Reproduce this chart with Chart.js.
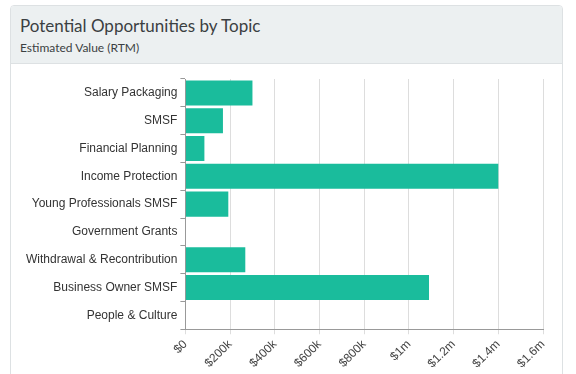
<!DOCTYPE html>
<html>
<head>
<meta charset="utf-8">
<script src="https://cdn.jsdelivr.net/npm/chart.js@4"></script>
<style>
    body { margin: 0; background: #fff; font-family: Lato, sans-serif; }
    .panel {
        position: absolute; left: 10px; top: 5px; width: 551px; height: 380px;
        border: 1px solid #dde1e3; border-radius: 4px; overflow: hidden;
    }
    .panel-heading {
        background: #ecf0f1; height: 58px; border-bottom: 1px solid #dde1e3;
        padding-left: 9px; box-sizing: border-box;
    }
    .panel-heading h3 { margin: 0; padding-top: 9px; font-size: 17px; font-weight: 400; color: #3b3f42; }
    .panel-heading small { display: block; font-size: 12px; color: #3b3f42; margin-top: 4px; }
    .chart-box { position: absolute; left: 0; top: 58px; width: 551px; height: 312px; }
</style>
</head>
<body>
<div class="panel">
    <div class="panel-heading">
        <h3>Potential Opportunities by Topic</h3>
        <small>Estimated Value (RTM)</small>
    </div>
    <div class="chart-box"><canvas id="topicChart"></canvas></div>
</div>
<script>
const topics = [
    'Salary Packaging',
    'SMSF',
    'Financial Planning',
    'Income Protection',
    'Young Professionals SMSF',
    'Government Grants',
    'Withdrawal & Recontribution',
    'Business Owner SMSF',
    'People & Culture'
];
const estimatedValues = [300000, 168000, 85000, 1400000, 192000, 0, 268000, 1090000, 0];
const axisMax = 1600000;
const axisStep = 200000;

const formatMoney = (value) => {
    if (value === 0) return '$0';
    if (value >= 1000000) return '$' + (value / 1000000) + 'm';
    return '$' + (value / 1000) + 'k';
};

const topicChartDOM = document.querySelector('#topicChart');

new Chart(topicChartDOM, {
    type: 'bar',
    data: {
        labels: topics,
        datasets: [{
            label: 'Estimated Value',
            data: estimatedValues,
            backgroundColor: '#1abc9c',
            borderWidth: 0,
            categoryPercentage: 1,
            barPercentage: 0.9
        }]
    },
    options: {
        indexAxis: 'y',
        responsive: true,
        maintainAspectRatio: false,
        animation: false,
        layout: { padding: { top: 15, right: 19, left: 12, bottom: 2 } },
        plugins: { legend: { display: false }, tooltip: { enabled: false } },
        scales: {
            x: {
                min: 0,
                max: axisMax,
                ticks: {
                    stepSize: axisStep,
                    maxRotation: 45,
                    minRotation: 45,
                    color: '#444444',
                    font: { family: 'Liberation Sans, Arial, sans-serif', size: 12 },
                    callback: (value) => formatMoney(value)
                },
                grid: { color: '#dddddd', tickLength: 5 },
                border: { color: '#999999' }
            },
            y: {
                ticks: {
                    color: '#333333',
                    font: { family: 'Liberation Sans, Arial, sans-serif', size: 12 }
                },
                grid: { drawOnChartArea: false, offset: true, tickLength: 5, color: '#999999' },
                border: { color: '#999999' }
            }
        }
    }
});
</script>
</body>
</html>
